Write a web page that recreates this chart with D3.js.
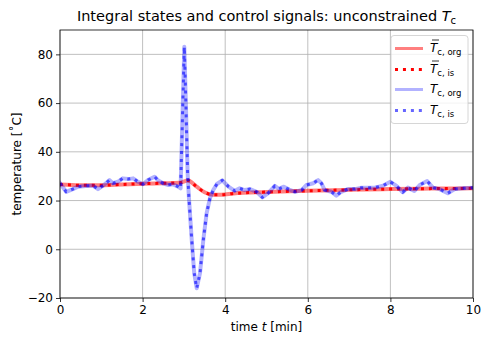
<!DOCTYPE html>
<html>
<head>
<meta charset="utf-8">
<script src="https://cdn.jsdelivr.net/npm/d3@7"></script>
<style>
  body { margin: 0; background: #fff; }
  svg { font-family: "DejaVu Sans", sans-serif; }
</style>
</head>
<body>
<svg width="482" height="338"></svg>
<script>
// control signal T_c (blue) and its mean (red)
const tBlue = [0, 0.15, 0.31, 0.44, 0.68, 0.8, 0.92, 1.04, 1.2, 1.28, 1.4, 1.52, 1.65, 1.77, 1.89, 2.01,
  2.13, 2.29, 2.37, 2.49, 2.61, 2.73, 2.86, 2.92, 3.01, 3.05, 3.09, 3.12, 3.19, 3.25, 3.31, 3.39, 3.47,
  3.55, 3.63, 3.71, 3.8, 3.93, 4.08, 4.23, 4.35, 4.47, 4.6, 4.76, 4.9, 5.04, 5.2, 5.3, 5.42, 5.55, 5.69,
  5.85, 5.97, 6.13, 6.25, 6.33, 6.41, 6.57, 6.69, 6.81, 6.97, 7.14, 7.3, 7.46, 7.62, 7.82, 8.0, 8.14,
  8.3, 8.42, 8.58, 8.71, 8.89, 9.03, 9.19, 9.39, 9.56, 9.76, 10];
const tcBlue = [27.1, 23.6, 24.7, 25.7, 26.1, 26.1, 24.7, 26.1, 28.4, 27.1, 27.7, 29.1, 28.8, 29.1, 27.7, 26.7,
  28.4, 29.8, 28.4, 27.1, 26.4, 26.7, 25.7, 25.0, 83.1, 58.5, 31.2, 21.6, 3.8, -9.8, -16.0, -9.8, 3.8,
  14.8, 20.9, 24.3, 26.8, 28.3, 25.7, 24.0, 25.0, 24.3, 24.7, 23.6, 21.3, 23.0, 26.0, 24.8, 25.7, 24.5, 23.6,
  24.3, 26.4, 27.1, 28.4, 27.1, 24.3, 23.6, 22.0, 23.6, 24.7, 24.7, 25.3, 25.3, 25.3, 26.1, 27.7, 26.1,
  23.4, 25.3, 23.9, 26.4, 28.0, 25.3, 24.7, 23.0, 24.7, 25.0, 25.3];

const tRed = [0, 0.5, 1, 1.5, 2, 2.5, 2.9, 3.1, 3.3, 3.5, 3.7, 3.9, 4.2, 5, 6, 7, 8, 9, 10];
const tcRed = [26.6, 26.3, 26.3, 26.6, 26.9, 27.1, 27.3, 28.2, 25.8, 23.4, 22.4, 22.4, 22.9, 23.5, 24.0, 24.4, 24.7, 24.9, 25.0];

const xTicks = [0, 2, 4, 6, 8, 10];
const yTicks = [-20, 0, 20, 40, 60, 80];

const margin = { top: 30, right: 9, bottom: 40, left: 60 };
const width = 482, height = 338;
const svg = d3.select("svg");

const x = d3.scaleLinear().domain([0, 10]).range([margin.left, width - margin.right]);
const y = d3.scaleLinear().domain([-20, 90]).range([height - margin.bottom, margin.top]);

// grid
svg.append("g").selectAll("line").data(xTicks).join("line")
  .attr("x1", d => x(d)).attr("x2", d => x(d))
  .attr("y1", margin.top).attr("y2", height - margin.bottom)
  .attr("stroke", "#b0b0b0").attr("stroke-width", 0.8);
svg.append("g").selectAll("line").data(yTicks).join("line")
  .attr("y1", d => y(d)).attr("y2", d => y(d))
  .attr("x1", margin.left).attr("x2", width - margin.right)
  .attr("stroke", "#b0b0b0").attr("stroke-width", 0.8);

// clip to the axes
svg.append("clipPath").attr("id", "clip").append("rect")
  .attr("x", margin.left).attr("y", margin.top)
  .attr("width", width - margin.left - margin.right)
  .attr("height", height - margin.top - margin.bottom);

const lineBlue = d3.line().x((d, i) => x(tBlue[i])).y(d => y(d));
const lineRed = d3.line().x((d, i) => x(tRed[i])).y(d => y(d)).curve(d3.curveMonotoneX);

const plot = svg.append("g").attr("clip-path", "url(#clip)");
const styles = [
  { line: lineRed, data: tcRed, color: "#ff0000", opacity: 0.5, w: 4, dash: null },
  { line: lineRed, data: tcRed, color: "#ff0000", opacity: 1, w: 3, dash: "3 4.95" },
  { line: lineBlue, data: tcBlue, color: "#0000ff", opacity: 0.3, w: 4, dash: null },
  { line: lineBlue, data: tcBlue, color: "#0000ff", opacity: 0.6, w: 3, dash: "3 4.95" }
];
styles.forEach(s => {
  plot.append("path")
    .attr("d", s.line(s.data))
    .attr("fill", "none")
    .attr("stroke", s.color)
    .attr("stroke-opacity", s.opacity)
    .attr("stroke-width", s.w)
    .attr("stroke-dasharray", s.dash)
    .attr("stroke-linejoin", "round")
    .attr("stroke-linecap", s.dash ? "butt" : "square");
});

// axes
const xAxis = svg.append("g").attr("transform", `translate(0,${height - margin.bottom})`)
  .call(d3.axisBottom(x).tickValues(xTicks).tickSize(4).tickPadding(3).tickFormat(d3.format("d")));
const yAxis = svg.append("g").attr("transform", `translate(${margin.left},0)`)
  .call(d3.axisLeft(y).tickValues(yTicks).tickSize(4).tickPadding(3)
    .tickFormat(d => d < 0 ? "\u2212" + Math.abs(d) : d));
[xAxis, yAxis].forEach(a => {
  a.select(".domain").remove();
  a.selectAll("text").attr("font-size", 12).attr("fill", "#000").attr("font-family", "DejaVu Sans");
  a.selectAll("line").attr("stroke", "#000").attr("stroke-width", 0.8);
});

svg.append("rect")
  .attr("x", margin.left).attr("y", margin.top)
  .attr("width", width - margin.left - margin.right)
  .attr("height", height - margin.top - margin.bottom)
  .attr("fill", "none").attr("stroke", "#000").attr("stroke-width", 0.8);

// title and labels
const title = svg.append("text")
  .attr("x", (margin.left + width - margin.right) / 2).attr("y", 21)
  .attr("text-anchor", "middle").attr("font-size", 14.5);
title.append("tspan").text("Integral states and control signals: unconstrained ");
title.append("tspan").attr("font-style", "italic").text("T");
title.append("tspan").attr("font-size", 10).attr("dy", 3).text("c");

const xl = svg.append("text")
  .attr("x", (margin.left + width - margin.right) / 2).attr("y", 331)
  .attr("text-anchor", "middle").attr("font-size", 12);
xl.append("tspan").text("time ");
xl.append("tspan").attr("font-style", "italic").text("t");
xl.append("tspan").text(" [min]");

svg.append("text")
  .attr("transform", `translate(21,${(margin.top + height - margin.bottom) / 2}) rotate(-90)`)
  .attr("text-anchor", "middle").attr("font-size", 12)
  .text("temperature [\u02DAC]");

// legend
const legendItems = [
  { bar: true, sub: "c, org", color: "#ff0000", opacity: 0.5, w: 3, dash: null },
  { bar: true, sub: "c, is", color: "#ff0000", opacity: 1, w: 3, dash: "3 4.95" },
  { bar: false, sub: "c, org", color: "#0000ff", opacity: 0.3, w: 3, dash: null },
  { bar: false, sub: "c, is", color: "#0000ff", opacity: 0.6, w: 3, dash: "3 4.95" }
];
const lg = svg.append("g");
lg.append("rect")
  .attr("x", 391).attr("y", 35.5).attr("width", 77).attr("height", 88).attr("rx", 3)
  .attr("fill", "#fff").attr("fill-opacity", 0.8).attr("stroke", "#cccccc").attr("stroke-width", 0.8);
legendItems.forEach((d, i) => {
  const yy = Math.round(48 + i * 20.5) + 0.5;
  lg.append("line")
    .attr("x1", 395).attr("x2", 423).attr("y1", yy).attr("y2", yy)
    .attr("stroke", d.color).attr("stroke-opacity", d.opacity)
    .attr("stroke-width", d.w).attr("stroke-dasharray", d.dash);
  const t = lg.append("text").attr("x", 430).attr("y", yy + 3).attr("font-size", 12);
  t.append("tspan").attr("font-style", "italic").text("T");
  t.append("tspan").attr("font-size", 8.5).attr("dy", 3).text(d.sub);
  if (d.bar) {
    lg.append("line")
      .attr("x1", 432).attr("x2", 439).attr("y1", yy - 8.5).attr("y2", yy - 8.5)
      .attr("stroke", "#000").attr("stroke-width", 0.8);
  }
});
</script>
</body>
</html>
